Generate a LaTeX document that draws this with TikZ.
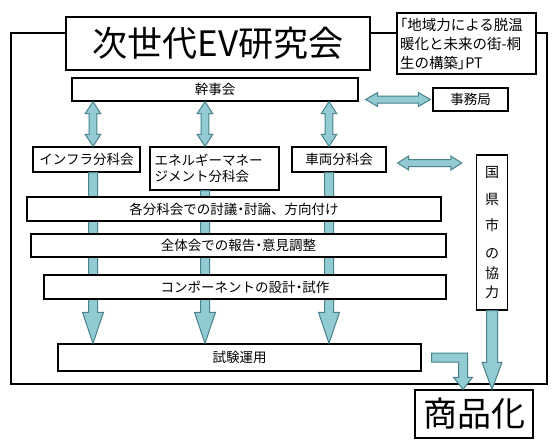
\documentclass[tikz,border=0pt]{standalone}
\usepackage{fontspec}
\newfontfamily\jp{Noto Sans CJK JP}
\newfontfamily\jpp[RawFeature=+palt]{Noto Sans CJK JP}
\newcommand\pp[1]{{\jpp #1}}
\usetikzlibrary{calc}
\definecolor{arrfill}{RGB}{146,204,210}
\definecolor{arrline}{RGB}{72,130,138}
% vertical double arrow: top point, bottom point, shaft half, head half, head length
\newcommand\vdbl[5]{\path[fat] let \p1=#1, \p2=#2 in
  (\x1,\y1) -- (\x1+#4,\y1-#5) -- (\x1+#3,\y1-#5) -- (\x1+#3,\y2+#5) -- (\x1+#4,\y2+#5) -- (\x1,\y2)
  -- (\x1-#4,\y2+#5) -- (\x1-#3,\y2+#5) -- (\x1-#3,\y1-#5) -- (\x1-#4,\y1-#5) -- cycle;}
% horizontal double arrow: left point, right point
\newcommand\hdbl[5]{\path[fat] let \p1=#1, \p2=#2 in
  (\x1,\y1) -- (\x1+#5,\y1+#4) -- (\x1+#5,\y1+#3) -- (\x2-#5,\y1+#3) -- (\x2-#5,\y1+#4) -- (\x2,\y1)
  -- (\x2-#5,\y1-#4) -- (\x2-#5,\y1-#3) -- (\x1+#5,\y1-#3) -- (\x1+#5,\y1-#4) -- cycle;}
% downward single arrow: top point, tip point
\newcommand\vdown[5]{\path[fat] let \p1=#1, \p2=#2 in
  (\x1-#3,\y1) -- (\x1-#3,\y2+#5) -- (\x1-#4,\y2+#5) -- (\x1,\y2) -- (\x1+#4,\y2+#5) -- (\x1+#3,\y2+#5) -- (\x1+#3,\y1) -- cycle;}
% L-shaped arrow: start point (left), tip point (bottom)
\newcommand\Larrow[5]{\path[fat] let \p1=#1, \p2=#2 in
  (\x1,\y1+#3) -- (\x2+#3,\y1+#3) -- (\x2+#3,\y2+#5) -- (\x2+#4,\y2+#5) -- (\x2,\y2) -- (\x2-#4,\y2+#5)
  -- (\x2-#3,\y2+#5) -- (\x2-#3,\y1-#3) -- (\x1,\y1-#3) -- cycle;}
\begin{document}
\begin{tikzpicture}[x=1pt,y=-1pt,
  box/.style={draw=black,line width=1.3pt,fill=white,inner sep=0pt,align=center,
    font=\jp\fontsize{13.5}{16}\selectfont},
  fat/.style={draw=arrline,fill=arrfill,line width=1pt,line join=miter}]
\useasboundingbox (0,0) rectangle (560,445);
% outer frame
\node[draw=black,line width=1.8pt,minimum width=536pt,minimum height=351pt,inner sep=0pt] (frame) at (279,208.5) {};
% column positions
\coordinate (c1) at (93,0);
\coordinate (c2) at (205,0);
\coordinate (c3) at (329,0);
\coordinate (Lx) at (463,0);
\coordinate (h2y) at (0,163);
% top boxes
\node[box,minimum width=304pt,minimum height=53pt,font=\jp\fontsize{35}{40}\selectfont] (title) at (218,43.5) {次世代EV研究会};
\node[box,minimum width=139pt,minimum height=61pt,align=left,text width=133pt,
  font=\jp\fontsize{14.5}{19}\selectfont] (pt) at (466.5,43.5) {\pp{「}地域力による脱温\\暖化と未来の街-桐\\生の構築\pp{」}PT};
\node[box,minimum width=75pt,minimum height=23pt] (jimu) at (470.5,99.5) {事務局};
\node[box,minimum width=286pt,minimum height=23pt] (kanji) at (215,89.5) {幹事会};
\draw[double=white,double distance=2.2pt,line width=0.8pt] (jimu.north |- pt.south) -- (jimu.north);
% sub committees
\node[box,minimum width=107pt,minimum height=25pt] (infra) at (86.5,159.5) {インフラ分科会};
\node[box,minimum width=129pt,minimum height=43pt,align=left,text width=120pt] (energy) at (214.5,168.5) {エネルギーマネー\\ジメント分科会};
\node[box,minimum width=94pt,minimum height=25pt] (sharyo) at (339,159.5) {車両分科会};
\node[box,minimum width=31pt,minimum height=155pt,font=\jp\fontsize{14}{19.5}\selectfont] (kuni) at (492,232.5) {国\\[8pt]県\\[6pt]市\\[9pt]の\\協\\力};
\node[box,minimum width=118pt,minimum height=48pt,font=\jp\fontsize{34}{40}\selectfont] (shohin) at (474,414) {商品化};
\node[box,minimum width=363pt,minimum height=27pt] (trial) at (239.5,357.5) {試験運用};
% arrows between kanjikai and sub committees
\vdbl{(kanji.south -| c1)}{(infra.north -| c1)}{3.8pt}{7.8pt}{12pt}
\vdbl{(kanji.south -| c2)}{(energy.north -| c2)}{3.8pt}{7.8pt}{12pt}
\vdbl{(kanji.south -| c3)}{(sharyo.north -| c3)}{3.8pt}{7.8pt}{12pt}
\coordinate (h1s) at ($(kanji.east)+(7,0)$);
\coordinate (h1e) at ($(jimu.west)+(-2,0)$);
\hdbl{(h1s |- jimu.west)}{(h1e)}{3.5pt}{7pt}{12pt}
\coordinate (h2s) at ($(sharyo.east)+(11,0)$);
\coordinate (h2e) at ($(kuni.west)+(-14,0)$);
\hdbl{(h2s |- h2y)}{(h2e |- h2y)}{3.5pt}{7pt}{11pt}
% long downward arrows
\vdown{(infra.south -| c1)}{(trial.north -| c1)}{4.5pt}{10.5pt}{31pt}
\vdown{(energy.south -| c2)}{(trial.north -| c2)}{4.5pt}{10.5pt}{31pt}
\vdown{(sharyo.south -| c3)}{(trial.north -| c3)}{4.5pt}{10.5pt}{31pt}
% bars over the arrows
\node[box,minimum width=414pt,minimum height=24pt] (bar1) at (234,209) {各分科会での討議\pp{・}討論、方向付け};
\node[box,minimum width=415pt,minimum height=23pt] (bar2) at (238.5,245.5) {全体会での報告\pp{・}意見調整};
\node[box,minimum width=402pt,minimum height=24pt] (bar3) at (245,287) {コンポーネントの設計\pp{・}試作};
% arrows to shohinka
\coordinate (Ls) at ($(trial.east)+(10,0)$);
\Larrow{(Ls)}{(shohin.north -| Lx)}{4.5pt}{9.5pt}{12pt}
\vdown{(kuni.south)}{(shohin.north -| kuni.south)}{5.5pt}{10pt}{27pt}
\end{tikzpicture}
\end{document}
